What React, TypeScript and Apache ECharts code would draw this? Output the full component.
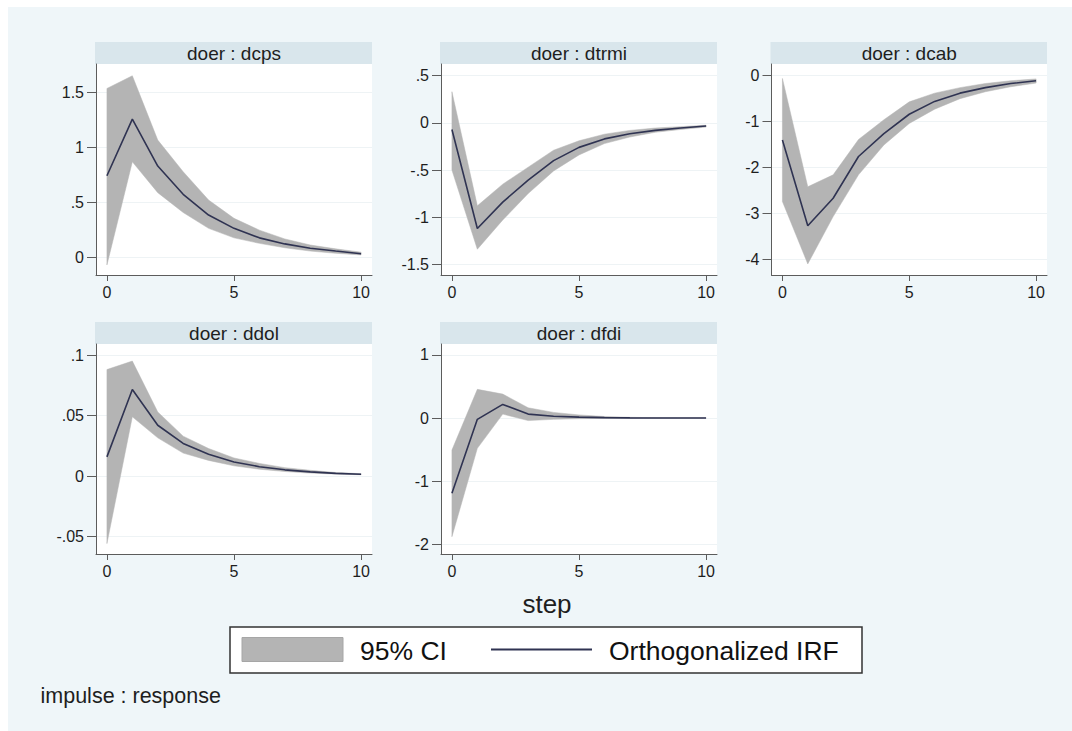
import React, { useEffect, useRef } from "react";
import * as echarts from "echarts";

const steps = [0, 1, 2, 3, 4, 5, 6, 7, 8, 9, 10];
const xTicks = [0, 5, 10];

const panelTitles = ["doer : dcps", "doer : dtrmi", "doer : dcab", "doer : ddol", "doer : dfdi"];

const dcpsIrf = [0.743, 1.257, 0.831, 0.575, 0.387, 0.266, 0.18, 0.125, 0.085, 0.06, 0.036];
const dcpsLo = [-0.066, 0.87, 0.59, 0.41, 0.266, 0.18, 0.13, 0.09, 0.06, 0.04, 0.025];
const dcpsHi = [1.535, 1.65, 1.067, 0.78, 0.523, 0.357, 0.25, 0.17, 0.115, 0.08, 0.05];

const dtrmiIrf = [-0.07, -1.12, -0.84, -0.607, -0.4, -0.26, -0.17, -0.115, -0.08, -0.055, -0.034];
const dtrmiLo = [-0.5, -1.34, -1.03, -0.75, -0.51, -0.34, -0.22, -0.15, -0.1, -0.07, -0.045];
const dtrmiHi = [0.33, -0.88, -0.65, -0.47, -0.29, -0.19, -0.12, -0.08, -0.055, -0.04, -0.025];

const dcabIrf = [-1.4, -3.27, -2.67, -1.76, -1.26, -0.84, -0.56, -0.38, -0.26, -0.17, -0.11];
const dcabLo = [-2.74, -4.1, -3.07, -2.16, -1.51, -1.04, -0.73, -0.5, -0.35, -0.24, -0.16];
const dcabHi = [-0.06, -2.42, -2.16, -1.39, -0.96, -0.57, -0.38, -0.26, -0.17, -0.11, -0.07];

const ddolIrf = [0.0159, 0.0715, 0.042, 0.027, 0.018, 0.0117, 0.0078, 0.0052, 0.0035, 0.0023, 0.0015];
const ddolLo = [-0.0557, 0.049, 0.0316, 0.019, 0.013, 0.0085, 0.0057, 0.0038, 0.0025, 0.0017, 0.0011];
const ddolHi = [0.088, 0.095, 0.053, 0.033, 0.0228, 0.015, 0.0105, 0.007, 0.0048, 0.003, 0.002];

const dfdiIrf = [-1.19, -0.02, 0.217, 0.063, 0.03, 0.015, 0.007, 0.003, 0.002, 0.001, 0.001];
const dfdiLo = [-1.88, -0.48, 0.063, -0.04, -0.02, -0.01, -0.005, -0.002, -0.001, 0, 0];
const dfdiHi = [-0.507, 0.455, 0.38, 0.163, 0.09, 0.05, 0.025, 0.012, 0.006, 0.003, 0.002];

const yTicks = [
  [0, 0.5, 1, 1.5],
  [-1.5, -1, -0.5, 0, 0.5],
  [-4, -3, -2, -1, 0],
  [-0.05, 0, 0.05, 0.1],
  [-2, -1, 0, 1],
];
const yMins = [-0.157, -1.613, -4.342, -0.0643, -2.154];
const yMaxs = [1.757, 0.624, 0.255, 0.1091, 1.174];

const irfs = [dcpsIrf, dtrmiIrf, dcabIrf, ddolIrf, dfdiIrf];
const los = [dcpsLo, dtrmiLo, dcabLo, ddolLo, dfdiLo];
const his = [dcpsHi, dtrmiHi, dcabHi, ddolHi, dfdiHi];

const legendLabels = ["95% CI", "Orthogonalized IRF"];
const xTitle = "step";
const note = "impulse : response";

// layout (page coords), chart offset
const OX = 8;
const OY = 7;
const boxes = [
  { l: 96, r: 372, t: 64, b: 275 },
  { l: 441, r: 717, t: 64, b: 275 },
  { l: 771.5, r: 1047, t: 64, b: 275 },
  { l: 96, r: 372, t: 344, b: 554 },
  { l: 441, r: 717, t: 344, b: 554 },
];
const STRIP_H = 22;

const FONT = "'Liberation Sans', Arial, Helvetica, sans-serif";
const BG = "#eff6f9";
const STRIP = "#d9e6ec";
const BAND = "#b4b4b4";
const LINE = "#2f3352";
const AXIS = "#5c5c5c";

function fmt(v: number) {
  const s = String(+(+v).toFixed(4));
  return s.replace(/^(-?)0\./, "$1.");
}

export default function App() {
  const ref = useRef<HTMLDivElement>(null);
  useEffect(() => {
    if (!ref.current) return;
    const chart = echarts.init(ref.current, null, { renderer: "svg" });
    const grid: any[] = [];
    const xAxis: any[] = [];
    const yAxis: any[] = [];
    const series: any[] = [];
    const graphic: any[] = [];

    boxes.forEach((b, i) => {
      grid.push({
        left: b.l - OX,
        top: b.t - OY,
        width: b.r - b.l,
        height: b.b - b.t,
        show: true,
        backgroundColor: "#ffffff",
        borderWidth: 0,
      });
      xAxis.push({
        type: "value",
        gridIndex: i,
        min: -0.43,
        max: 10.43,
        axisLine: { show: true, onZero: false, lineStyle: { color: AXIS, width: 1 } },
        axisTick: { show: true, length: 6, customValues: xTicks, lineStyle: { color: AXIS } },
        axisLabel: {
          customValues: xTicks,
          margin: 9,
          fontSize: 16,
          fontFamily: FONT,
          color: "#1e1e1e",
        },
        splitLine: { show: false },
      });
      yAxis.push({
        type: "value",
        gridIndex: i,
        min: yMins[i],
        max: yMaxs[i],
        axisLine: { show: true, onZero: false, lineStyle: { color: AXIS, width: 1 } },
        axisTick: { show: true, length: 9, customValues: yTicks[i], lineStyle: { color: AXIS } },
        axisLabel: {
          customValues: yTicks[i],
          margin: 12,
          fontSize: 16,
          fontFamily: FONT,
          color: "#1e1e1e",
          formatter: (v: number) => fmt(v),
        },
        splitLine: { show: true, lineStyle: { color: "#eef3f5", width: 1 } },
      });
      const lo = los[i];
      const hi = his[i];
      series.push({
        type: "custom",
        xAxisIndex: i,
        yAxisIndex: i,
        silent: true,
        clip: true,
        encode: { x: 0, y: [1, 2] },
        data: steps.map((s, k) => [s, lo[k], hi[k]]),
        renderItem: (params: any, api: any) => {
          if (params.dataIndex !== 0) return null;
          const upper = steps.map((s, k) => api.coord([s, hi[k]]));
          const lower = steps.map((s, k) => api.coord([s, lo[k]])).reverse();
          return {
            type: "polygon",
            shape: { points: upper.concat(lower) },
            style: { fill: BAND, stroke: BAND, lineWidth: 0.5 },
          };
        },
        z: 2,
      });
      series.push({
        type: "line",
        xAxisIndex: i,
        yAxisIndex: i,
        symbol: "none",
        silent: true,
        lineStyle: { width: 1.6, color: LINE },
        data: steps.map((s, k) => [s, irfs[i][k]]),
        z: 3,
      });
      graphic.push({
        type: "rect",
        shape: { x: b.l - OX - 1, y: b.t - OY - STRIP_H, width: b.r - b.l + 1, height: STRIP_H },
        style: { fill: STRIP },
        silent: true,
      });
      graphic.push({
        type: "text",
        x: (b.l + b.r) / 2 - OX,
        y: b.t - OY - STRIP_H / 2 + 0.5,
        style: {
          text: panelTitles[i],
          fontSize: 19,
          fontFamily: FONT,
          fill: "#1e1e1e",
          align: "center",
          verticalAlign: "middle",
        },
        silent: true,
      });
    });

    // x title
    graphic.push({
      type: "text",
      x: 547 - OX,
      y: 604 - OY,
      style: { text: xTitle, fontSize: 26, fontFamily: FONT, fill: "#1e1e1e", align: "center", verticalAlign: "middle" },
      silent: true,
    });
    // legend box
    graphic.push({
      type: "rect",
      shape: { x: 230 - OX, y: 627 - OY, width: 632, height: 46 },
      style: { fill: "#ffffff", stroke: "#333333", lineWidth: 1.5 },
      silent: true,
    });
    graphic.push({
      type: "rect",
      shape: { x: 242 - OX, y: 637.5 - OY, width: 101, height: 24 },
      style: { fill: BAND, stroke: "#a6a6a6", lineWidth: 1 },
      silent: true,
    });
    graphic.push({
      type: "text",
      x: 360 - OX,
      y: 650.5 - OY,
      style: { text: legendLabels[0], fontSize: 26.5, fontFamily: FONT, fill: "#111111", align: "left", verticalAlign: "middle" },
      silent: true,
    });
    graphic.push({
      type: "line",
      shape: { x1: 491 - OX, y1: 649.5 - OY, x2: 592 - OX, y2: 649.5 - OY },
      style: { stroke: LINE, lineWidth: 2 },
      silent: true,
    });
    graphic.push({
      type: "text",
      x: 609 - OX,
      y: 650.5 - OY,
      style: { text: legendLabels[1], fontSize: 26.5, fontFamily: FONT, fill: "#111111", align: "left", verticalAlign: "middle" },
      silent: true,
    });
    // note
    graphic.push({
      type: "text",
      x: 40.5 - OX,
      y: 696 - OY,
      style: { text: note, fontSize: 21.5, fontFamily: FONT, fill: "#1e1e1e", align: "left", verticalAlign: "middle" },
      silent: true,
    });

    chart.setOption({
      animation: false,
      backgroundColor: BG,
      grid,
      xAxis,
      yAxis,
      series,
      graphic,
    });
    return () => chart.dispose();
  }, []);

  return (
    <div style={{ position: "fixed", left: 0, top: 0, width: 1072, height: 731, background: "#ffffff", overflow: "hidden" }}>
      <div ref={ref} style={{ position: "absolute", left: OX, top: OY, width: 1072 - OX, height: 731 - OY }} />
    </div>
  );
}
